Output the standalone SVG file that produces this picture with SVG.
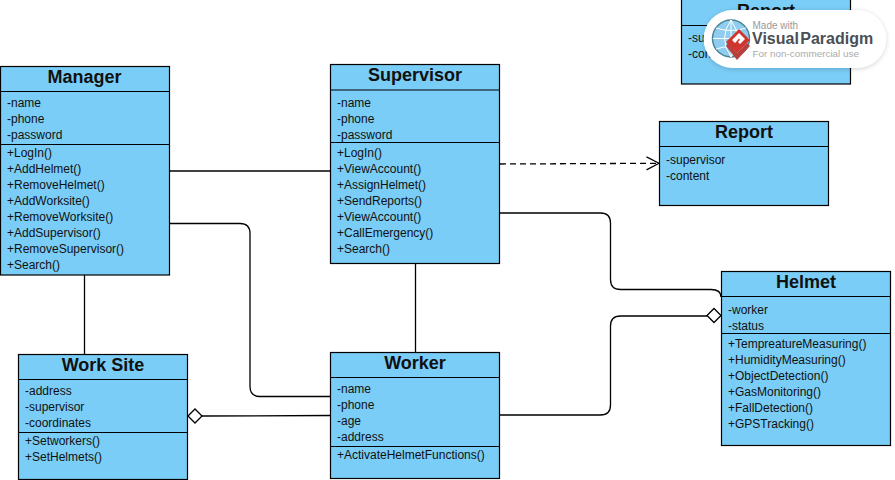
<svg xmlns="http://www.w3.org/2000/svg" width="895" height="480" viewBox="0 0 895 480">
<style>
text{font-family:"Liberation Sans",Arial,sans-serif;fill:#111}
.box{fill:#7ACDF6;stroke:#000;stroke-width:1.2}
.div{stroke:#000;stroke-width:1.2;fill:none}
.t{font-size:18px;font-weight:bold;text-anchor:middle}
.m{font-size:12px}
.c{fill:none;stroke:#000;stroke-width:1.3}
.d{fill:#fff;stroke:#000;stroke-width:1.3}
</style>
<defs>
<filter id="sh" x="-10%" y="-20%" width="120%" height="140%"><feGaussianBlur stdDeviation="2.5"/></filter>
<marker id="open" markerWidth="15" markerHeight="16" refX="13" refY="7" orient="auto" markerUnits="userSpaceOnUse"><path d="M0.5 0.5L13 7L0.5 13.5" fill="none" stroke="#000" stroke-width="1.2"/></marker>
</defs>
<g id="connectors">
<path class="c" d="M169 171H330"/>
<path class="c" d="M169 223.5H240Q250 223.5 250 233.5V386.5Q250 396.5 260 396.5H330"/>
<path class="c" d="M84.5 275V354"/>
<path class="c" d="M415.5 263V352"/>
<path class="c" d="M202 416L330 415.5"/>
<path class="d" d="M188 416L195 409L202 416L195 423Z"/>
<path class="c" d="M500 415H600.5Q610.5 415 610.5 405V326Q610.5 316 620.5 316H707"/>
<path class="d" d="M707 315.5L714 308.5L721 315.5L714 322.5Z"/>
<path class="c" d="M500 213H600.5Q610.5 213 610.5 223V279.5Q610.5 289.5 620.5 289.5H711Q721 289.5 721 297"/>
<path class="c" d="M500 164L659 163.3" stroke-dasharray="6 4" marker-end="url(#open)"/>
</g>
<g id="manager">
<rect class="box" x="0.5" y="66.5" width="169" height="208.5"/>
<path class="div" d="M0.5 91.5H169.5M0.5 144.5H169.5"/>
<text class="t" x="84.5" y="83">Manager</text>
<text class="m" x="7" y="107">-name</text><text class="m" x="7" y="123">-phone</text><text class="m" x="7" y="139">-password</text>
<text class="m" x="7" y="157">+LogIn()</text><text class="m" x="7" y="173">+AddHelmet()</text><text class="m" x="7" y="189">+RemoveHelmet()</text><text class="m" x="7" y="205">+AddWorksite()</text><text class="m" x="7" y="221">+RemoveWorksite()</text><text class="m" x="7" y="237">+AddSupervisor()</text><text class="m" x="7" y="253">+RemoveSupervisor()</text><text class="m" x="7" y="269">+Search()</text>
</g>
<g id="supervisor">
<rect class="box" x="330.5" y="64.5" width="169" height="199"/>
<path class="div" d="M330.5 90H499.5M330.5 142.5H499.5"/>
<text class="t" x="415" y="81">Supervisor</text>
<text class="m" x="337" y="107">-name</text><text class="m" x="337" y="123">-phone</text><text class="m" x="337" y="139">-password</text>
<text class="m" x="337" y="157">+LogIn()</text><text class="m" x="337" y="173">+ViewAccount()</text><text class="m" x="337" y="189">+AssignHelmet()</text><text class="m" x="337" y="205">+SendReports()</text><text class="m" x="337" y="221">+ViewAccount()</text><text class="m" x="337" y="237">+CallEmergency()</text><text class="m" x="337" y="253">+Search()</text>
</g>
<g id="report">
<rect class="box" x="659.5" y="121.5" width="169" height="84"/>
<path class="div" d="M659.5 146.5H828.5"/>
<text class="t" x="744" y="138">Report</text>
<text class="m" x="666" y="164">-supervisor</text><text class="m" x="666" y="180">-content</text>
</g>
<g id="report-top">
<rect class="box" x="681.5" y="-1" width="169" height="85"/>
<path class="div" d="M681.5 25.5H850.5"/>
<text class="t" x="766" y="17">Report</text>
<text class="m" x="688" y="42">-supervisor</text><text class="m" x="688" y="58">-content</text>
</g>
<g id="helmet">
<rect class="box" x="721.5" y="271.5" width="169" height="174"/>
<path class="div" d="M721.5 296.5H890.5M721.5 333.5H890.5"/>
<text class="t" x="806" y="288">Helmet</text>
<text class="m" x="728" y="314">-worker</text><text class="m" x="728" y="330">-status</text>
<text class="m" x="728" y="348">+TempreatureMeasuring()</text><text class="m" x="728" y="364">+HumidityMeasuring()</text><text class="m" x="728" y="380">+ObjectDetection()</text><text class="m" x="728" y="396">+GasMonitoring()</text><text class="m" x="728" y="412">+FallDetection()</text><text class="m" x="728" y="428">+GPSTracking()</text>
</g>
<g id="worker">
<rect class="box" x="330.5" y="352.5" width="169" height="126"/>
<path class="div" d="M330.5 377.5H499.5M330.5 446.5H499.5"/>
<text class="t" x="415" y="369">Worker</text>
<text class="m" x="337" y="393">-name</text><text class="m" x="337" y="409">-phone</text><text class="m" x="337" y="425">-age</text><text class="m" x="337" y="441">-address</text>
<text class="m" x="337" y="459">+ActivateHelmetFunctions()</text>
</g>
<g id="work-site">
<rect class="box" x="18.5" y="354.5" width="169" height="125"/>
<path class="div" d="M18.5 379.5H187.5M18.5 432.5H187.5"/>
<text class="t" x="103" y="371">Work Site</text>
<text class="m" x="25" y="395">-address</text><text class="m" x="25" y="411">-supervisor</text><text class="m" x="25" y="427">-coordinates</text>
<text class="m" x="25" y="445">+Setworkers()</text><text class="m" x="25" y="461">+SetHelmets()</text>
</g>
<g id="watermark">
<rect x="704" y="11" width="182" height="58" rx="29" fill="#000" opacity="0.18" filter="url(#sh)"/>
<rect x="703.5" y="10" width="183" height="58" rx="29" fill="#fff"/>
<circle cx="731" cy="38.5" r="18.5" fill="#8FCDF0" stroke="#4E8496" stroke-width="1.5"/>
<path d="M713 38.5H749M731 20V57M716 28Q731 33 746 28M716 49Q731 44 746 49M731 20Q718 38 731 57M731 20Q744 38 731 57" fill="none" stroke="#fff" stroke-width="1"/>
<path d="M726 46L737 60L750 46L747 43L737 53L728 43Z" fill="#B8403A"/>
<path d="M726 42L739 29L750 40L737 53Z" fill="#D0352E"/>
<path d="M732 40L739 33L745 39L740 44L738 42L740 40L739 38.5L736 42L735 43Z" fill="#fff"/>
<text x="752.5" y="28.5" font-size="10" style="fill:#999">Made with</text>
<text x="752" y="44" font-size="16" font-weight="bold" word-spacing="-3" style="fill:#4a4f55">Visual Paradigm</text>
<text x="752.5" y="57" font-size="9.9" style="fill:#aaa">For non-commercial use</text>
</g>
</svg>
